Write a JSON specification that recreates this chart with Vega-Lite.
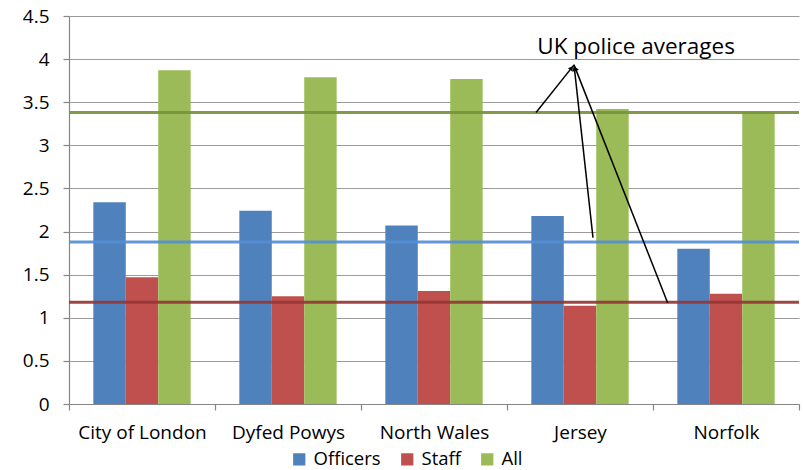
{
  "$schema": "https://vega.github.io/schema/vega-lite/v6.json",
  "autosize": {"type": "none"},
  "width": 730,
  "height": 388,
  "padding": {"left": 69, "top": 16, "right": 4, "bottom": 66},
  "background": "white",
  "config": {
    "font": "Open Sans",
    "view": {"stroke": null},
    "axis": {
      "labelFont": "Open Sans",
      "labelFontSize": 19,
      "labelColor": "#000000",
      "domainColor": "#868686",
      "tickColor": "#868686",
      "gridColor": "#9a9a9a",
      "gridWidth": 1.2,
      "domainWidth": 1.2,
      "tickWidth": 1.2
    },
    "legend": {"labelFont": "Open Sans", "labelFontSize": 18.5, "labelColor": "#000000"}
  },
  "datasets": {
    "bars": [
      {"force": "City of London", "measure": "Officers", "value": 2.34},
      {"force": "City of London", "measure": "Staff", "value": 1.47},
      {"force": "City of London", "measure": "All", "value": 3.87},
      {"force": "Dyfed Powys", "measure": "Officers", "value": 2.24},
      {"force": "Dyfed Powys", "measure": "Staff", "value": 1.25},
      {"force": "Dyfed Powys", "measure": "All", "value": 3.79},
      {"force": "North Wales", "measure": "Officers", "value": 2.07},
      {"force": "North Wales", "measure": "Staff", "value": 1.31},
      {"force": "North Wales", "measure": "All", "value": 3.77},
      {"force": "Jersey", "measure": "Officers", "value": 2.18},
      {"force": "Jersey", "measure": "Staff", "value": 1.14},
      {"force": "Jersey", "measure": "All", "value": 3.42},
      {"force": "Norfolk", "measure": "Officers", "value": 1.8},
      {"force": "Norfolk", "measure": "Staff", "value": 1.28},
      {"force": "Norfolk", "measure": "All", "value": 3.39}
    ],
    "averages": [
      {"measure": "Officers", "avg": 1.88},
      {"measure": "Staff", "avg": 1.18},
      {"measure": "All", "avg": 3.38}
    ],
    "pointers": [
      {"target": "All", "tipX": 3.459, "tipY": 3.933, "endX": 3.199, "endY": 3.38, "headX": 3.442, "headY": 3.897, "heading": 38.5},
      {"target": "Officers", "tipX": 3.459, "tipY": 3.933, "endX": 3.589, "endY": 1.93, "headX": 3.462, "headY": 3.886, "heading": -6.3},
      {"target": "Staff", "tipX": 3.459, "tipY": 3.933, "endX": 4.1, "endY": 1.175, "headX": 3.469, "headY": 3.89, "heading": -21.5}
    ],
    "caption": [
      {"label": "UK police averages", "cx": 3.884, "cy": 4.14}
    ]
  },
  "layer": [
    {
      "data": {"name": "bars"},
      "mark": {"type": "bar"},
      "encoding": {
        "x": {
          "field": "force",
          "type": "nominal",
          "sort": ["City of London", "Dyfed Powys", "North Wales", "Jersey", "Norfolk"],
          "scale": {"paddingInner": 0, "paddingOuter": 0},
          "axis": {
            "title": null,
            "labelAngle": 0,
            "tickBand": "extent",
            "tickSize": 6,
            "labelPadding": 13,
            "grid": false
          }
        },
        "xOffset": {
          "field": "measure",
          "type": "nominal",
          "sort": ["Officers", "Staff", "All"],
          "scale": {"paddingInner": 0, "paddingOuter": 0.75}
        },
        "y": {
          "field": "value",
          "type": "quantitative",
          "scale": {"domain": [0, 4.5], "nice": false},
          "axis": {
            "title": null,
            "values": [0, 0.5, 1, 1.5, 2, 2.5, 3, 3.5, 4, 4.5],
            "format": "~g",
            "tickSize": 6,
            "labelPadding": 14,
            "grid": true
          }
        },
        "color": {
          "field": "measure",
          "type": "nominal",
          "sort": ["Officers", "Staff", "All"],
          "scale": {"domain": ["Officers", "Staff", "All"], "range": ["#4F81BD", "#C0504D", "#9BBB59"]},
          "legend": {
            "title": null,
            "orient": "none",
            "legendX": 221,
            "legendY": 434,
            "direction": "horizontal",
            "symbolType": "square",
            "symbolSize": 150,
            "symbolStrokeWidth": 0,
            "labelOffset": 5,
            "columnPadding": 17
          }
        }
      }
    },
    {
      "data": {"name": "averages"},
      "mark": {"type": "rule", "strokeWidth": 3, "opacity": 0.92},
      "encoding": {
        "y": {"field": "avg", "type": "quantitative"},
        "color": {
          "field": "measure",
          "type": "nominal",
          "scale": {"domain": ["Officers", "Staff", "All"], "range": ["#558ED5", "#953735", "#77933C"]},
          "legend": null
        }
      }
    },
    {
      "data": {"name": "pointers"},
      "mark": {"type": "rule", "color": "#000000", "strokeWidth": 1.5},
      "encoding": {
        "x": {"field": "tipX", "type": "quantitative", "scale": {"domain": [0, 5], "nice": false}, "axis": null},
        "y": {"field": "tipY", "type": "quantitative"},
        "x2": {"field": "endX"},
        "y2": {"field": "endY"}
      }
    },
    {
      "data": {"name": "pointers"},
      "mark": {"type": "point", "shape": "triangle-up", "filled": true, "color": "#000000", "size": 30, "opacity": 1},
      "encoding": {
        "x": {"field": "headX", "type": "quantitative", "scale": {"domain": [0, 5], "nice": false}, "axis": null},
        "y": {"field": "headY", "type": "quantitative"},
        "angle": {"field": "heading", "type": "quantitative", "scale": null}
      }
    },
    {
      "data": {"name": "caption"},
      "mark": {"type": "text", "font": "Open Sans", "fontSize": 22.5, "color": "#000000", "align": "center", "baseline": "middle"},
      "encoding": {
        "x": {"field": "cx", "type": "quantitative", "scale": {"domain": [0, 5], "nice": false}, "axis": null},
        "y": {"field": "cy", "type": "quantitative"},
        "text": {"field": "label"}
      }
    }
  ],
  "resolve": {"scale": {"x": "independent", "color": "independent"}}
}
